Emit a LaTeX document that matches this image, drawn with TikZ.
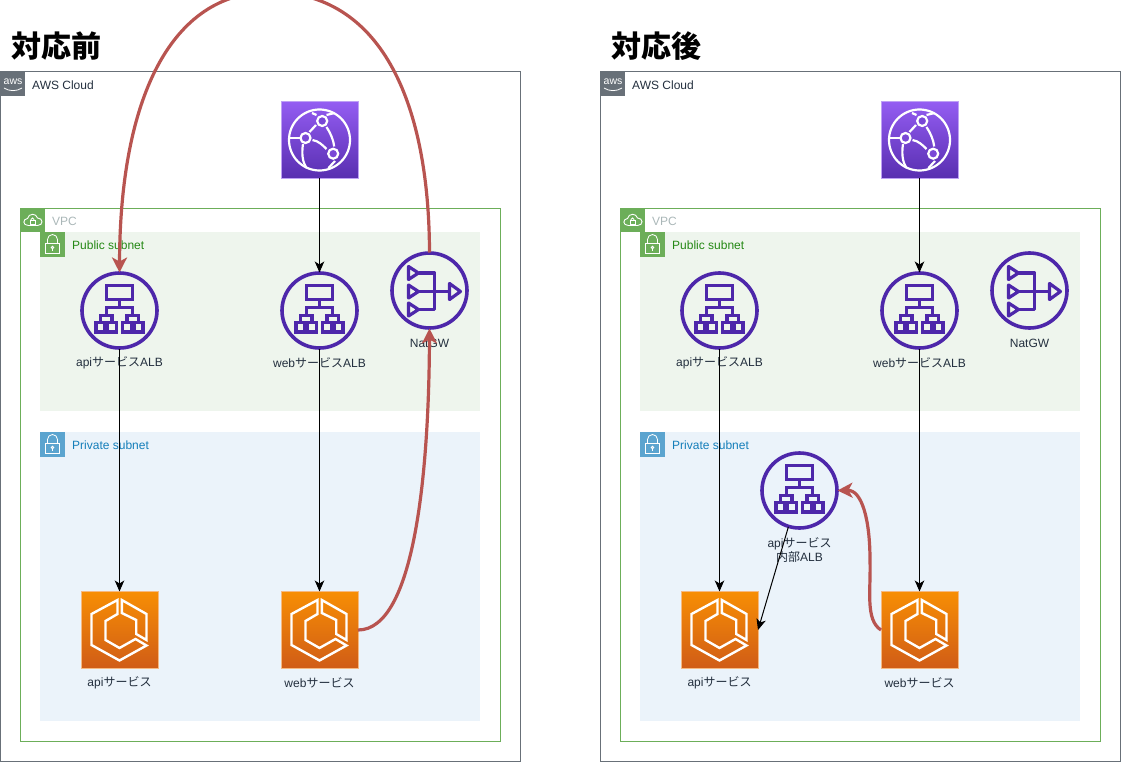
\documentclass[tikz,border=0pt]{standalone}
\usepackage{fontspec}
\setmainfont{Liberation Sans}
\newfontfamily\jpfont{Noto Sans CJK JP}
\newcommand{\jp}[1]{{\jpfont #1}}
\usetikzlibrary{arrows.meta}

\definecolor{albpurple}{HTML}{4D27AA}
\definecolor{linkred}{HTML}{B85450}
\definecolor{labelink}{HTML}{232F3E}
\definecolor{vpcgreen}{HTML}{6CAE59}
\definecolor{subnetblue}{HTML}{5BA4CF}
\definecolor{cfmid}{HTML}{7A48D6}

\tikzset{
  lbl/.style={text=labelink, align=center, inner sep=0pt, font=\fontsize{12}{14}\selectfont},
  grouplbl/.style={anchor=west, inner sep=0pt, font=\fontsize{12}{14}\selectfont},
  title/.style={anchor=west, inner sep=0pt, font=\jpfont\bfseries\fontsize{30}{32}\selectfont},
  groupbox/.style={rectangle, inner sep=0pt, outer sep=0pt},
  badge/.style={rectangle, inner sep=0pt, outer sep=0pt, minimum size=24.5pt},
  albnode/.style={circle, draw=albpurple, line width=3.6pt, inner sep=0pt, outer sep=0.5pt, minimum size=75pt},
  ecsnode/.style={rectangle, draw={rgb,255:red,245;green,185;blue,130}, line width=0.8pt, top color={rgb,255:red,247;green,142;blue,4}, bottom color={rgb,255:red,208;green,92;blue,23}, inner sep=0pt, outer sep=0pt, minimum size=77pt},
  cfnode/.style={rectangle, draw={rgb,255:red,190;green,160;blue,245}, line width=0.8pt, top color={rgb,255:red,148;green,93;blue,242}, bottom color={rgb,255:red,88;green,46;blue,176}, inner sep=0pt, outer sep=0pt, minimum size=77pt},
  flow/.style={draw=black, line width=1pt, -{Stealth[length=11pt,width=9.5pt,inset=3pt]}},
  redflow/.style={draw=linkred, line width=3.2pt, -{Stealth[length=15pt,width=15pt,inset=4pt]}},
  % icons, drawn around the centre of their node
  albglyph/.pic={
    \begin{scope}[draw=albpurple, line width=3.2pt]
      \draw (-13,-25) rectangle (13,-11);
      \draw (0,-11) -- (0,-3);
      \draw (-13,5) -- (-13,-3) -- (13,-3) -- (13,5);
      \draw (-19,12) -- (-19,5) -- (-7.5,5) -- (-7.5,12);
      \draw (19,12) -- (19,5) -- (7.5,5) -- (7.5,12);
      \foreach \bx in {-19,-7.5,7.5,19}
        \draw (\bx-4.5,12) rectangle (\bx+4.5,21.5);
    \end{scope}
  },
  natglyph/.pic={
    \begin{scope}[draw=albpurple, line width=3.2pt, line join=round]
      \foreach \ty in {-17.5,1,19}
        \draw (-21,\ty-6.5) -- (-11,\ty) -- (-21,\ty+6.5) -- cycle;
      \draw (-11,-17.5) -- (5,-17.5) -- (5,19) -- (-11,19);
      \draw (-11,1) -- (20,1);
      \draw (20,-7) -- (31,1) -- (20,9) -- cycle;
    \end{scope}
  },
  ecsglyph/.pic={
    \begin{scope}[draw=white, line width=2.4pt, line join=miter]
      \draw (-2,-30) -- (-28,-16) -- (-28,15) -- (0,30.5) -- (27,15.5) -- (16,9) -- (0,18) -- (-14,10) -- (-14,-9) -- (-2,-16) -- cycle;
      \draw (2.3,-30) -- (27,-16) -- (27,10) -- (16.7,4) -- (16.7,-10) -- (2.3,-17) -- cycle;
    \end{scope}
  },
  cfglyph/.pic={
    \begin{scope}[draw=white, line width=2.2pt]
      \draw (0,0) circle (30.5);
      \foreach \cx/\cy in {2.7/-19,-14/-2,13.7/13.7}
        \draw[fill=cfmid] (\cx,\cy) circle (5);
      \draw (-3.5,-15) -- (-10,-8);
      \draw (-7,0) .. controls (-1,1) and (3,5) .. (7,9);
      \draw (7,-13) .. controls (11,-7) and (14,0) .. (14.7,6.5);
      \draw (-30,-2) -- (-20,-2);
      \draw (-16.5,4) .. controls (-18,14) and (-17,22) .. (-13,28);
      \draw (9,28) -- (15.5,21);
      \draw (-7.5,-27) -- (-3,-25);
      \draw (7,-25) -- (15,-27);
    \end{scope}
  },
  lockglyph/.pic={
    \begin{scope}[draw=white, line width=0.8pt]
      \draw (-6.7,-1) rectangle (6.7,9);
      \draw (-5,-1) -- (-5,-5) arc[start angle=180, end angle=0, x radius=5, y radius=-5] -- (5,-1);
      \draw (0,3) circle (1.2);
      \draw (0,4.2) -- (0,6.5);
    \end{scope}
  },
  cloudglyph/.pic={
    \begin{scope}[draw=white, line width=0.9pt]
      \draw (-4,5.5) .. controls (-10,5.5) and (-10,-1) .. (-5,-1.5)
        .. controls (-4,-7) and (4,-7) .. (5,-2)
        .. controls (11,-2) and (11,5.5) .. (5,5.5) -- cycle;
      \draw (-2.5,0.5) rectangle (2.5,4);
      \draw (-1.5,0.5) -- (-1.5,-0.5) arc[start angle=180, end angle=0, x radius=1.5, y radius=-1.5] -- (1.5,0.5);
    \end{scope}
  },
}

\begin{document}
\begin{tikzpicture}[x=1pt, y=-1pt]
  \useasboundingbox (0,0) rectangle (1121,762);

  % both panels share the frames, the icons and the black links
  \foreach \side/\dx in {a/0, b/600} {
    \begin{scope}[xshift=\dx pt]
      \node [groupbox, draw={rgb,255:red,104;green,112;blue,120}, line width=1pt, minimum width=520pt, minimum height=690pt] (cloud\side) at (260.5,416.5) {};
      \node [groupbox, draw=vpcgreen, line width=1pt, minimum width=480pt, minimum height=533pt] (vpc\side) at (260.5,474.5) {};
      \node [groupbox, fill={rgb,255:red,238;green,245;blue,237}, minimum width=440pt, minimum height=179pt] (pub\side) at (260,321.5) {};
      \node [groupbox, fill={rgb,255:red,235;green,243;blue,250}, minimum width=440pt, minimum height=289pt] (priv\side) at (260,576.5) {};

      % group badges and their texts
      \node [badge, fill={rgb,255:red,104;green,112;blue,120}] (cloudicon\side) at (12.5,83.5) {};
      \node [text=white, inner sep=0pt, font=\fontsize{10.5}{10.5}\selectfont] (awsmark\side) at (13,81.5) {aws};
      \draw [white, line width=0.8pt] (4,88) .. controls (9,91.5) and (17,91.5) .. (22,88);
      \node [lbl, anchor=west] (cloudlbl\side) at (32,85) {AWS Cloud};
      \node [badge, fill=vpcgreen] (vpcicon\side) at (32.5,220) {};
      \pic at (vpcicon\side) {cloudglyph};
      \node [grouplbl, text={rgb,255:red,170;green,183;blue,184}] (vpclbl\side) at (52,221) {VPC};
      \node [badge, fill=vpcgreen] (pubicon\side) at (52.5,244.5) {};
      \pic at (pubicon\side) {lockglyph};
      \node [grouplbl, text={rgb,255:red,36;green,136;blue,20}] (publbl\side) at (72,245) {Public subnet};
      \node [badge, fill=subnetblue] (privicon\side) at (52.5,444.5) {};
      \pic at (privicon\side) {lockglyph};
      \node [grouplbl, text={rgb,255:red,20;green,126;blue,186}] (privlbl\side) at (72,445) {Private subnet};

      % services
      \node [cfnode] (cf\side) at (319.5,140) {};
      \pic at (cf\side) {cfglyph};
      \node [albnode] (albapi\side) at (119.5,310.5) {};
      \pic at (albapi\side) {albglyph};
      \node [albnode] (albweb\side) at (319.5,310.5) {};
      \pic at (albweb\side) {albglyph};
      \node [albnode] (nat\side) at (429.5,290.5) {};
      \pic at (nat\side) {natglyph};
      \node [ecsnode] (ecsapi\side) at (119.5,630) {};
      \pic at (ecsapi\side) {ecsglyph};
      \node [ecsnode] (ecsweb\side) at (319.5,630) {};
      \pic at (ecsweb\side) {ecsglyph};

      \node [lbl] (albapilbl\side) at (119.5,363) {api\jp{サービス}ALB};
      \node [lbl] (albweblbl\side) at (319.5,363) {web\jp{サービス}ALB};
      \node [lbl] (natlbl\side) at (429.5,343) {NatGW};
      \node [lbl] (ecsapilbl\side) at (119.5,683) {api\jp{サービス}};
      \node [lbl] (ecsweblbl\side) at (319.5,683) {web\jp{サービス}};

      \draw [flow] (cf\side) -- (albweb\side);
      \draw [flow] (albapi\side) -- (ecsapi\side);
      \draw [flow] (albweb\side) -- (ecsweb\side);
    \end{scope}
  }

  \node [title] (titlea) at (11,46) {対応前};
  \node [title] (titleb) at (611,46) {対応後};

  % only on the right: the internal ALB
  \node [albnode] (albint) at (799.5,490.5) {};
  \pic at (albint) {albglyph};
  \node [lbl] (albintlbl) at (799.5,550) {api\jp{サービス}\\\jp{内部}ALB};
  \draw [flow] (albint.253) -- (ecsapib.east);

  % red paths
  \draw [redflow] (ecswebb.west) .. controls (865,620) and (871,590) .. (870,560)
    .. controls (870,520) and (862,490) .. (albint.east);
  \draw [redflow] (ecsweba.east) .. controls (415,630) and (429,470) .. (nata.south);
  \draw [redflow] (nata.north) .. controls (429,100) and (380,-8) .. (270,-8)
    .. controls (170,-8) and (120,100) .. (albapia.north);
\end{tikzpicture}
\end{document}
